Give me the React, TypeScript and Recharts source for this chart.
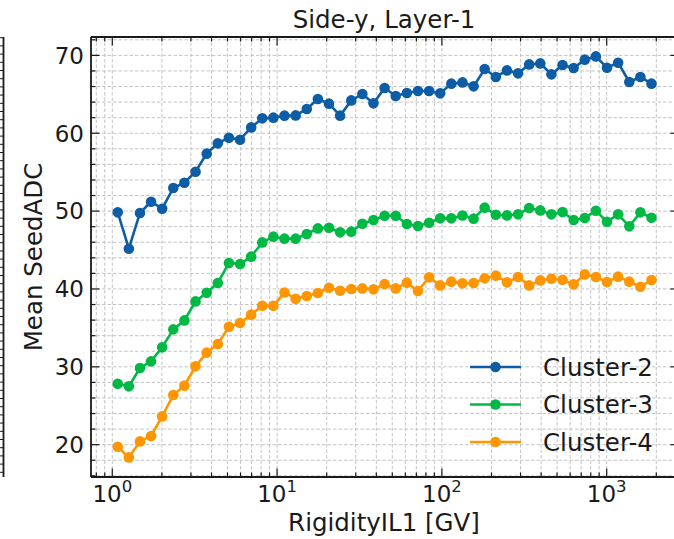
import React from 'react';
import { LineChart, Line, XAxis, YAxis, CartesianGrid, Legend } from 'recharts';

// Rigidity bin centres [GV]
const rigidity = [
  1.079, 1.26, 1.472, 1.719, 2.007, 2.345, 2.739, 3.2, 3.738, 4.367,
  5.101, 5.958, 6.96, 8.128, 9.495, 11.09, 12.96, 15.14, 17.68, 20.65,
  24.12, 28.18, 32.91, 38.44, 44.91, 52.46, 61.28, 71.58, 83.6, 97.66,
  114.1, 133.3, 155.7, 181.8, 212.4, 248.1, 289.8, 338.5, 395.4, 461.8,
  539.5, 630.2, 736.1, 859.8, 1004, 1173, 1371, 1601, 1870,
];

const cluster2 = [
  49.84, 45.17, 49.76, 51.21, 50.31, 52.97, 53.65, 55.06, 57.38, 58.7,
  59.43, 59.17, 60.75, 61.91, 62.0, 62.26, 62.29, 63.12, 64.4, 63.8,
  62.26, 64.22, 65.04, 63.84, 65.81, 64.79, 65.17, 65.43, 65.43, 65.12,
  66.37, 66.53, 66.02, 68.25, 67.23, 68.07, 67.69, 68.84, 68.97, 67.56,
  68.77, 68.38, 69.45, 69.87, 68.42, 69.06, 66.58, 67.23, 66.37,
];

const cluster3 = [
  27.83, 27.49, 29.85, 30.7, 32.5, 34.81, 35.96, 38.4, 39.52, 40.77,
  43.34, 43.21, 44.15, 45.98, 46.72, 46.46, 46.46, 47.06, 47.78, 47.87,
  47.27, 47.36, 48.38, 48.86, 49.41, 49.41, 48.34, 48.09, 48.51, 49.07,
  49.07, 49.43, 49.03, 50.44, 49.54, 49.45, 49.58, 50.4, 50.09, 49.58,
  49.89, 48.86, 49.12, 50.05, 48.64, 49.58, 48.04, 49.84, 49.15,
];

const cluster4 = [
  19.74, 18.37, 20.42, 21.12, 23.63, 26.38, 27.58, 30.06, 31.82, 32.93,
  35.15, 35.63, 36.7, 37.85, 37.83, 39.55, 38.75, 39.1, 39.48, 40.16,
  39.78, 40.0, 40.07, 39.95, 40.64, 40.07, 40.81, 39.74, 41.49, 40.46,
  40.94, 40.72, 40.77, 41.36, 41.71, 40.85, 41.54, 40.46, 41.1, 41.32,
  41.19, 40.59, 41.87, 41.54, 40.9, 41.58, 40.94, 40.29, 41.15,
];

const seriesKeys = ['c2', 'c3', 'c4'];
const seriesNames = ['Cluster-2', 'Cluster-3', 'Cluster-4'];
const seriesColors = ['#0C5DA5', '#00B945', '#FF9500'];

const xTicks = [
  0.8, 0.9, 1, 2, 3, 4, 5, 6, 7, 8, 9, 10, 20, 30, 40, 50, 60, 70, 80, 90,
  100, 200, 300, 400, 500, 600, 700, 800, 900, 1000, 2000,
];
const yTicks = [
  16, 18, 20, 22, 24, 26, 28, 30, 32, 34, 36, 38, 40, 42, 44, 46, 48, 50,
  52, 54, 56, 58, 60, 62, 64, 66, 68, 70, 72,
];
const yLabelled = [20, 30, 40, 50, 60, 70];

const title = 'Side-y, Layer-1';
const xLabel = 'RigidityIL1 [GV]';
const yLabel = 'Mean SeedADC';

const data = rigidity.map((r, i) => ({
  r,
  c2: cluster2[i],
  c3: cluster3[i],
  c4: cluster4[i],
}));

// plot frame (px)
const CHART_W = 760;
const CHART_H = 539;
const PLOT_LEFT = 91;
const PLOT_RIGHT = 679;
const PLOT_TOP = 37;
const PLOT_BOTTOM = 477;
const X_DOMAIN: [number, number] = [0.7427, 2746];
const Y_DOMAIN: [number, number] = [15.85, 72.36];

const FONT = '"DejaVu Sans", "Liberation Sans", sans-serif';
const INK = '#1a1a1a';
const MAJOR = 8.5;
const MINOR = 4.5;
const LABEL_SIZE = 24.5;
const TICK_SIZE = 23;

const isDecade = (v: number) => {
  const l = Math.log10(v);
  return Math.abs(l - Math.round(l)) < 1e-6;
};

const BottomTick = (props: any) => {
  const { x, payload } = props;
  const v = payload.value;
  const major = isDecade(v);
  return (
    <g>
      <line x1={x} x2={x} y1={PLOT_BOTTOM} y2={PLOT_BOTTOM - (major ? MAJOR : MINOR)} stroke={INK} strokeWidth={1.2} />
      {major && (
        <text x={x} y={502} textAnchor="middle" fontFamily={FONT} fontSize={TICK_SIZE} fill={INK}>
          10
          <tspan dy={-10.5} fontSize={16.5}>{Math.round(Math.log10(v))}</tspan>
        </text>
      )}
    </g>
  );
};

const TopTick = (props: any) => {
  const { x, payload } = props;
  const major = isDecade(payload.value);
  return (
    <line x1={x} x2={x} y1={PLOT_TOP} y2={PLOT_TOP + (major ? MAJOR : MINOR)} stroke={INK} strokeWidth={1.2} />
  );
};

const LeftTick = (props: any) => {
  const { y, payload } = props;
  const v = payload.value;
  const major = yLabelled.includes(v);
  return (
    <g>
      <line x1={PLOT_LEFT} x2={PLOT_LEFT + (major ? MAJOR : MINOR)} y1={y} y2={y} stroke={INK} strokeWidth={1.2} />
      {major && (
        <text x={84} y={y + 8.3} textAnchor="end" fontFamily={FONT} fontSize={TICK_SIZE} fill={INK}>
          {v}
        </text>
      )}
    </g>
  );
};

const RightTick = (props: any) => {
  const { y, payload } = props;
  const major = yLabelled.includes(payload.value);
  return (
    <line x1={PLOT_RIGHT} x2={PLOT_RIGHT - (major ? MAJOR : MINOR)} y1={y} y2={y} stroke={INK} strokeWidth={1.2} />
  );
};

const LegendBox = (props: any) => {
  const items = (props.payload || []) as any[];
  return (
    <svg width={214} height={120} style={{ overflow: 'visible' }}>
      {items.map((it, i) => {
        const cy = 22 + i * 37.5;
        return (
          <g key={it.value}>
            <line x1={10} x2={61} y1={cy} y2={cy} stroke={it.color} strokeWidth={2.6} />
            <circle cx={35.5} cy={cy} r={5.3} fill={it.color} />
            <text x={83} y={cy + 8.7} fontFamily={FONT} fontSize={LABEL_SIZE} fill={INK}>
              {it.value}
            </text>
          </g>
        );
      })}
    </svg>
  );
};

// tick marks of the neighbouring panel's right spine
const neighbourTicks = Array.from({ length: 54 }, (_, i) => 37.7 + i * 8.2);

export default function App() {
  return (
    <div
      style={{
        position: 'fixed',
        left: 0,
        top: 0,
        width: 674,
        height: 539,
        overflow: 'hidden',
        background: '#fff',
        fontFamily: FONT,
      }}
    >
      <LineChart
        width={CHART_W}
        height={CHART_H}
        data={data}
        margin={{ top: PLOT_TOP - 30, right: CHART_W - PLOT_RIGHT - 60, bottom: CHART_H - PLOT_BOTTOM - 30, left: PLOT_LEFT - 60 }}
      >
        <CartesianGrid stroke="#bdbdbd" strokeDasharray="3.5 2" strokeWidth={0.9} />
        <XAxis
          dataKey="r"
          type="number"
          scale="log"
          domain={X_DOMAIN}
          allowDataOverflow
          ticks={xTicks}
          interval={0}
          height={30}
          tickLine={false}
          axisLine={{ stroke: INK, strokeWidth: 1.8 }}
          tick={<BottomTick />}
        />
        <XAxis
          xAxisId="top"
          orientation="top"
          dataKey="r"
          type="number"
          scale="log"
          domain={X_DOMAIN}
          allowDataOverflow
          ticks={xTicks}
          interval={0}
          height={30}
          tickLine={false}
          axisLine={{ stroke: INK, strokeWidth: 1.8 }}
          tick={<TopTick />}
        />
        <YAxis
          type="number"
          domain={Y_DOMAIN}
          allowDataOverflow
          ticks={yTicks}
          interval={0}
          width={60}
          tickLine={false}
          axisLine={{ stroke: INK, strokeWidth: 1.8 }}
          tick={<LeftTick />}
        />
        <YAxis
          yAxisId="right"
          orientation="right"
          type="number"
          domain={Y_DOMAIN}
          allowDataOverflow
          ticks={yTicks}
          interval={0}
          width={60}
          tickLine={false}
          axisLine={{ stroke: INK, strokeWidth: 1.8 }}
          tick={<RightTick />}
        />
        {seriesKeys.map((k, i) => (
          <Line
            key={k}
            dataKey={k}
            name={seriesNames[i]}
            stroke={seriesColors[i]}
            strokeWidth={2.6}
            dot={{ r: 5.3, fill: seriesColors[i], stroke: seriesColors[i], strokeWidth: 0 }}
            activeDot={false}
            isAnimationActive={false}
          />
        ))}
        <Legend
          layout="horizontal"
          align="center"
          verticalAlign="middle"
          content={<LegendBox />}
          wrapperStyle={{ left: 460, top: 345, width: 214, height: 120 }}
        />
      </LineChart>
      <svg
        width={674}
        height={539}
        style={{ position: 'absolute', left: 0, top: 0, pointerEvents: 'none' }}
      >
        <text x={384} y={28} textAnchor="middle" fontFamily={FONT} fontSize={LABEL_SIZE} fill={INK}>
          {title}
        </text>
        <text x={384} y={531} textAnchor="middle" fontFamily={FONT} fontSize={LABEL_SIZE} fill={INK}>
          {xLabel}
        </text>
        <text
          x={0}
          y={0}
          transform={`translate(42, 257) rotate(-90)`}
          textAnchor="middle"
          fontFamily={FONT}
          fontSize={LABEL_SIZE}
          fill={INK}
        >
          {yLabel}
        </text>
        <line x1={3.5} x2={3.5} y1={37} y2={477} stroke={INK} strokeWidth={1.8} />
        {neighbourTicks.map((ty) => (
          <line key={ty} x1={0} x2={3.5} y1={ty} y2={ty} stroke={INK} strokeWidth={1} />
        ))}
      </svg>
    </div>
  );
}
